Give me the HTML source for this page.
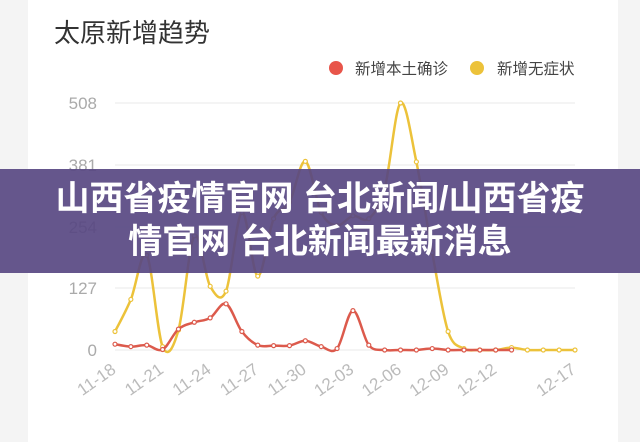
<!DOCTYPE html>
<html><head><meta charset="utf-8"><style>
body{margin:0;width:640px;height:442px;overflow:hidden;background:#f4f4f4;font-family:"Liberation Sans","Noto Sans CJK SC",sans-serif}
#card{position:absolute;left:28px;top:0;width:590px;height:442px;background:#fff}
#band{position:absolute;left:0;top:169px;width:640px;height:104px;background:rgba(88,72,130,0.92);color:#fff;font-weight:bold;font-size:34px;line-height:43px;text-align:center;padding-top:9px;box-sizing:border-box;font-family:"Liberation Sans","Noto Sans CJK SC",sans-serif;white-space:nowrap}
</style></head><body>
<div id="card"></div>
<svg id="s" width="640" height="442" style="position:absolute;left:0;top:0" font-family="Liberation Sans, Noto Sans CJK SC, sans-serif">
<text x="54" y="42" font-size="26" fill="#333">太原新增趋势</text>
<circle cx="336" cy="68" r="7" fill="#e8554a"/><text x="355" y="74" font-size="15.5" fill="#444">新增本土确诊</text>
<circle cx="477" cy="68" r="7" fill="#ecc23a"/><text x="497" y="74" font-size="15.5" fill="#444">新增无症状</text>
<g font-size="17" fill="#aaa" text-anchor="end">
<text x="97" y="109">508</text><text x="97" y="171">381</text><text x="97" y="233">254</text><text x="97" y="294">127</text><text x="97" y="356">0</text>
</g>
<g stroke="#e8e8e8" stroke-width="1">
<line x1="115" x2="575" y1="103" y2="103"/><line x1="115" x2="575" y1="165" y2="165"/><line x1="115" x2="575" y1="227" y2="227"/><line x1="115" x2="575" y1="288" y2="288"/><line x1="115" x2="575" y1="350" y2="350"/>
</g>
<g id="lines"></g>
<g id="labels" font-size="17" fill="#bbb" text-anchor="end"></g>
</svg>
<div id="band">山西省疫情官网 台北新闻/山西省疫<br>情官网 台北新闻最新消息</div>
<script>
var Y=[38,104,195,7,41,235,131,121,283,152,270,304,388,283,256,276,270,332,508,387,200,38,3,0,0,5,0,0,0,0];
var R=[12,7,10,1,43,57,66,95,38,10,9,9,19,7,3,81,10,0,0,0,3,0,0,0,0,0];
function px(i){return 115+i*460/29}function py(v){return 350-v*247/508}
function path(a){var p=a.map(function(v,i){return [px(i),py(v)]});var d="M"+p[0];for(var i=0;i<p.length-1;i++){var p0=p[i-1]||p[i],p1=p[i],p2=p[i+1],p3=p[i+2]||p2;var c1=[p1[0]+(p2[0]-p0[0])/6,p1[1]+(p2[1]-p0[1])/6],c2=[p2[0]-(p3[0]-p1[0])/6,p2[1]-(p3[1]-p1[1])/6];d+=" C"+c1+" "+c2+" "+p2;}return d}
var g=document.getElementById("lines"),h="";
function ser(a,c){h+='<path d="'+path(a)+'" fill="none" stroke="'+c+'" stroke-width="2.5"/>';a.forEach(function(v,i){h+='<circle cx="'+px(i)+'" cy="'+py(v)+'" r="2" fill="#fff" stroke="'+c+'" stroke-width="1.2"/>'});}
ser(Y,"#ecc23a");ser(R,"#dc5a4c");g.innerHTML=h;
var L=[[0,"11-18"],[3,"11-21"],[6,"11-24"],[9,"11-27"],[12,"11-30"],[15,"12-03"],[18,"12-06"],[21,"12-09"],[24,"12-12"],[29,"12-17"]],s="";
L.forEach(function(l){var x=px(l[0])+2,y=372;s+='<text transform="translate('+x+','+y+') rotate(-35)">'+l[1]+'</text>'});
document.getElementById("labels").innerHTML=s;
</script>
</body></html>
